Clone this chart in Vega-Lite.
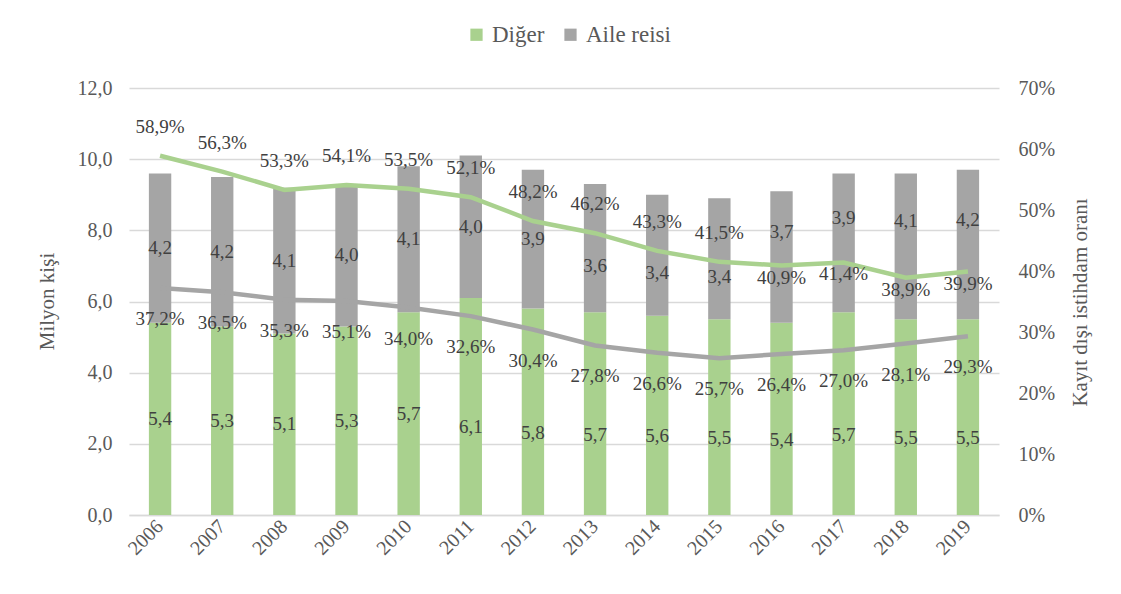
{
  "$schema": "https://vega.github.io/schema/vega-lite/v6.json",
  "width": 870,
  "height": 427,
  "autosize": {"type": "none"},
  "padding": {"left": 129, "top": 88, "right": 122, "bottom": 79},
  "background": "white",
  "config": {
    "locale": {"number": {"decimal": ",", "thousands": ".", "grouping": [3], "currency": ["", " TL"]}},
    "font": "Liberation Serif",
    "view": {"stroke": null},
    "axis": {"labelFont": "Liberation Serif", "titleFont": "Liberation Serif", "labelFontSize": 20, "titleFontSize": 21, "labelColor": "#595959", "titleColor": "#595959", "titleFontWeight": "normal", "ticks": false, "domain": false, "gridColor": "#d9d9d9", "gridWidth": 1.3},
    "legend": {"labelFont": "Liberation Serif", "labelFontSize": 23, "labelColor": "#595959"},
    "text": {"fontSize": 19, "color": "#404040", "baseline": "middle", "font": "Liberation Serif"}
  },
  "data": {"values": [
    {"yil": "2006", "Diğer": 5.4, "Aile reisi": 4.2, "oran_genel": 0.589, "oran_reis": 0.372},
    {"yil": "2007", "Diğer": 5.3, "Aile reisi": 4.2, "oran_genel": 0.563, "oran_reis": 0.365},
    {"yil": "2008", "Diğer": 5.1, "Aile reisi": 4.1, "oran_genel": 0.533, "oran_reis": 0.353},
    {"yil": "2009", "Diğer": 5.3, "Aile reisi": 4.0, "oran_genel": 0.541, "oran_reis": 0.351},
    {"yil": "2010", "Diğer": 5.7, "Aile reisi": 4.1, "oran_genel": 0.535, "oran_reis": 0.340},
    {"yil": "2011", "Diğer": 6.1, "Aile reisi": 4.0, "oran_genel": 0.521, "oran_reis": 0.326},
    {"yil": "2012", "Diğer": 5.8, "Aile reisi": 3.9, "oran_genel": 0.482, "oran_reis": 0.304},
    {"yil": "2013", "Diğer": 5.7, "Aile reisi": 3.6, "oran_genel": 0.462, "oran_reis": 0.278},
    {"yil": "2014", "Diğer": 5.6, "Aile reisi": 3.4, "oran_genel": 0.433, "oran_reis": 0.266},
    {"yil": "2015", "Diğer": 5.5, "Aile reisi": 3.4, "oran_genel": 0.415, "oran_reis": 0.257},
    {"yil": "2016", "Diğer": 5.4, "Aile reisi": 3.7, "oran_genel": 0.409, "oran_reis": 0.264},
    {"yil": "2017", "Diğer": 5.7, "Aile reisi": 3.9, "oran_genel": 0.414, "oran_reis": 0.270},
    {"yil": "2018", "Diğer": 5.5, "Aile reisi": 4.1, "oran_genel": 0.389, "oran_reis": 0.281},
    {"yil": "2019", "Diğer": 5.5, "Aile reisi": 4.2, "oran_genel": 0.399, "oran_reis": 0.293}
  ]},
  "encoding": {
    "x": {"field": "yil", "type": "ordinal", "scale": {"paddingInner": 0.64, "paddingOuter": 0.32},
      "axis": {"title": null, "labelAngle": -45, "labelAlign": "right", "labelBaseline": "middle", "labelPadding": 8, "grid": false, "domain": true, "domainColor": "#d9d9d9", "domainWidth": 1.3}}
  },
  "layer": [
    {
      "transform": [{"fold": ["Diğer", "Aile reisi"], "as": ["seri", "deger"]}],
      "layer": [
        {
          "mark": {"type": "bar"},
          "encoding": {
            "y": {"field": "deger", "type": "quantitative", "stack": "zero", "scale": {"domain": [0, 12]},
              "axis": {"title": "Milyon kişi", "values": [0, 2, 4, 6, 8, 10, 12], "format": ".1f", "labelPadding": 17, "titleAngle": -90, "titleX": -82, "titleY": 213, "titleAlign": "center", "titleBaseline": "middle", "grid": true}},
            "color": {"field": "seri", "type": "nominal", "scale": {"domain": ["Diğer", "Aile reisi"], "range": ["#a9d18e", "#a5a5a5"]},
              "legend": {"title": null, "orient": "none", "direction": "horizontal", "legendX": 336, "legendY": -65, "symbolType": "square", "symbolSize": 150, "symbolStrokeWidth": 0, "columnPadding": 14, "labelOffset": 4}},
            "order": {"field": "seri", "sort": "descending"}
          }
        },
        {
          "transform": [
            {"stack": "deger", "groupby": ["yil"], "sort": [{"field": "seri", "order": "descending"}], "as": ["y0", "y1"]},
            {"calculate": "(datum.y0 + datum.y1) / 2", "as": "ymid"}
          ],
          "encoding": {
            "y": {"field": "ymid", "type": "quantitative", "scale": {"domain": [0, 12]},
              "axis": {"title": "Milyon kişi", "values": [0, 2, 4, 6, 8, 10, 12], "format": ".1f", "labelPadding": 17, "titleAngle": -90, "titleX": -82, "titleY": 213, "titleAlign": "center", "titleBaseline": "middle", "grid": true}},
            "text": {"field": "deger", "type": "quantitative", "format": ".1f"}
          },
          "layer": [
            {"transform": [{"filter": {"field": "seri", "equal": "Diğer"}}, {"filter": {"field": "yil", "oneOf": ["2006", "2007", "2008", "2009", "2010"]}}],
             "mark": {"type": "text"}},
            {"transform": [{"filter": {"field": "seri", "equal": "Diğer"}}, {"filter": {"field": "yil", "oneOf": ["2011", "2012", "2013", "2014", "2015", "2016", "2017", "2018", "2019"]}}],
             "mark": {"type": "text", "dy": 21}},
            {"transform": [{"filter": {"field": "seri", "equal": "Aile reisi"}}, {"filter": {"field": "yil", "oneOf": ["2006", "2007", "2008", "2009", "2010", "2011", "2012"]}}],
             "mark": {"type": "text"}},
            {"transform": [{"filter": {"field": "seri", "equal": "Aile reisi"}}, {"filter": {"field": "yil", "oneOf": ["2013", "2014", "2015"]}}],
             "mark": {"type": "text", "dy": 18}},
            {"transform": [{"filter": {"field": "seri", "equal": "Aile reisi"}}, {"filter": {"field": "yil", "oneOf": ["2016", "2017", "2018", "2019"]}}],
             "mark": {"type": "text", "dy": -25}}
          ]
        }
      ]
    },
    {
      "encoding": {
        "y": {"field": "oran_genel", "type": "quantitative", "scale": {"domain": [0, 0.7]},
          "axis": {"orient": "right", "title": "Kayıt dışı istihdam oranı", "values": [0, 0.1, 0.2, 0.3, 0.4, 0.5, 0.6, 0.7], "format": ".0%", "labelPadding": 19, "grid": false, "titleAngle": -90, "titleX": 81, "titleY": 214, "titleAlign": "center", "titleBaseline": "middle"}}
      },
      "layer": [
        {
          "mark": {"type": "line", "color": "#a9d18e", "strokeWidth": 4.5}
        },
        {
          "mark": {"type": "line", "color": "#a5a5a5", "strokeWidth": 4.5},
          "encoding": {
            "y": {"field": "oran_reis", "type": "quantitative"}
          }
        },
        {
          "transform": [{"filter": {"field": "yil", "oneOf": ["2006", "2007", "2008", "2009", "2010", "2011", "2012", "2013", "2014", "2015"]}}],
          "mark": {"type": "text", "dy": -29},
          "encoding": {
            "text": {"field": "oran_genel", "type": "quantitative", "format": ".1%"}
          }
        },
        {
          "transform": [{"filter": {"field": "yil", "oneOf": ["2016", "2017", "2018", "2019"]}}],
          "mark": {"type": "text", "dy": 12},
          "encoding": {
            "text": {"field": "oran_genel", "type": "quantitative", "format": ".1%"}
          }
        },
        {
          "mark": {"type": "text", "dy": 31},
          "encoding": {
            "y": {"field": "oran_reis", "type": "quantitative"},
            "text": {"field": "oran_reis", "type": "quantitative", "format": ".1%"}
          }
        }
      ]
    }
  ],
  "resolve": {"scale": {"y": "independent"}}
}
